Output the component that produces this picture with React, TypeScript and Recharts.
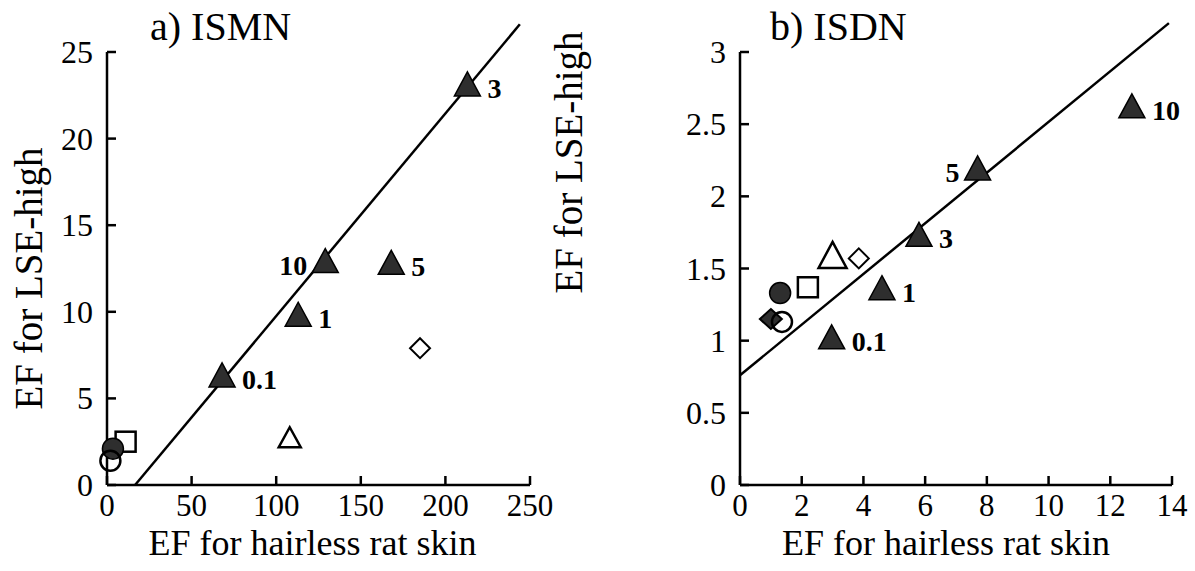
import React from 'react';
import { ScatterChart, Scatter, XAxis, YAxis, ReferenceLine, Label } from 'recharts';

// a) ISMN
const ismnXTicks = [0, 50, 100, 150, 200, 250];
const ismnYTicks = [0, 5, 10, 15, 20, 25];
const ismnDoses = ['0.1', '1', '3', '5', '10'];
const ismnDoseX = [68, 113, 213, 168, 129];
const ismnDoseY = [6.3, 9.8, 23.1, 12.8, 12.9];
const ismnOtherKinds = ['openTriangle', 'openDiamond', 'openSquare', 'filledCircle', 'openCircle'];
const ismnOtherX = [108, 185, 11, 3.5, 2];
const ismnOtherY = [2.7, 7.9, 2.5, 2.1, 1.4];
const ismnFitX = [16.6, 244];
const ismnFitY = [0, 26.6];

// b) ISDN
const isdnXTicks = [0, 2, 4, 6, 8, 10, 12, 14];
const isdnYTicks = [0, 0.5, 1, 1.5, 2, 2.5, 3];
const isdnDoses = ['0.1', '1', '3', '5', '10'];
const isdnDoseX = [2.97, 4.6, 5.8, 7.7, 12.7];
const isdnDoseY = [1.02, 1.36, 1.73, 2.19, 2.62];
const isdnOtherKinds = ['bigOpenTriangle', 'openDiamond', 'openSquare', 'filledCircle', 'filledDiamond', 'openCircle'];
const isdnOtherX = [3.0, 3.85, 2.2, 1.3, 1.0, 1.36];
const isdnOtherY = [1.58, 1.57, 1.37, 1.33, 1.15, 1.13];
const isdnFitX = [0, 13.9];
const isdnFitY = [0.76, 3.2];

const SERIF = '"Liberation Serif", "Times New Roman", serif';
const INK = '#000';
const DARK = '#2e2e2e';

const zip = (xs: number[], ys: number[]) => xs.map((x, i) => ({ x, y: ys[i] }));

function XTick(props: any) {
  const { x, y, payload } = props;
  return (
    <g>
      <line x1={x} x2={x} y1={y} y2={y - 9} stroke={INK} strokeWidth={2.5} />
      <text x={x} y={y + 31} textAnchor="middle" fontSize={31} fontFamily={SERIF} fill={INK}>
        {payload.value}
      </text>
    </g>
  );
}

function YTick(props: any) {
  const { x, y, payload } = props;
  return (
    <g>
      <line x1={x} x2={x + 9} y1={y} y2={y} stroke={INK} strokeWidth={2.5} />
      <text x={x - 14} y={y + 11} textAnchor="end" fontSize={32} fontFamily={SERIF} fill={INK}>
        {payload.value}
      </text>
    </g>
  );
}

function marker(kind: string, cx: number, cy: number) {
  switch (kind) {
    case 'openTriangle':
      return <path d={`M${cx},${cy - 11} L${cx + 11},${cy + 9} L${cx - 11},${cy + 9} Z`} fill="#fff" stroke={INK} strokeWidth={2.5} />;
    case 'bigOpenTriangle':
      return <path d={`M${cx},${cy - 15} L${cx + 14},${cy + 11} L${cx - 14},${cy + 11} Z`} fill="#fff" stroke={INK} strokeWidth={2.5} />;
    case 'openDiamond':
      return <path d={`M${cx},${cy - 10} L${cx + 10},${cy} L${cx},${cy + 10} L${cx - 10},${cy} Z`} fill="#fff" stroke={INK} strokeWidth={2} />;
    case 'filledDiamond':
      return <path d={`M${cx},${cy - 10} L${cx + 11},${cy} L${cx},${cy + 10} L${cx - 11},${cy} Z`} fill={DARK} stroke={INK} strokeWidth={2} />;
    case 'openSquare':
      return <rect x={cx - 10} y={cy - 10} width={20} height={20} fill="#fff" stroke={INK} strokeWidth={2.5} />;
    case 'filledCircle':
      return <circle cx={cx} cy={cy} r={10.5} fill={DARK} stroke={INK} strokeWidth={1.5} />;
    case 'openCircle':
      return <circle cx={cx} cy={cy} r={10} fill="none" stroke={INK} strokeWidth={2.5} />;
    default:
      return null;
  }
}

function makeDoseShape(leftLabels: string[]) {
  return (props: any) => {
    const { cx, cy, payload } = props;
    const left = leftLabels.includes(payload.label);
    return (
      <g>
        <path d={`M${cx},${cy - 13} L${cx + 13},${cy + 11} L${cx - 13},${cy + 11} Z`} fill={DARK} stroke={INK} strokeWidth={1.5} />
        <text
          x={left ? cx - 18 : cx + 20}
          y={cy + 13}
          textAnchor={left ? 'end' : 'start'}
          fontSize={28}
          fontWeight="bold"
          fontFamily={SERIF}
          fill={INK}
        >
          {payload.label}
        </text>
      </g>
    );
  };
}

const otherShape = (props: any) => marker(props.payload.kind, props.cx, props.cy);

interface PanelProps {
  xTicks: number[];
  yTicks: number[];
  doses: string[];
  doseX: number[];
  doseY: number[];
  otherKinds: string[];
  otherX: number[];
  otherY: number[];
  fitX: number[];
  fitY: number[];
  leftLabels: string[];
  width: number;
  margin: { top: number; right: number; bottom: number; left: number };
  xLabelDx: number;
  yLabelDx: number;
  yLabelDy: number;
}

function Panel(p: PanelProps) {
  const doseData = p.doses.map((label, i) => ({ x: p.doseX[i], y: p.doseY[i], label }));
  const otherData = p.otherKinds.map((kind, i) => ({ x: p.otherX[i], y: p.otherY[i], kind }));
  const fit = zip(p.fitX, p.fitY);
  const xMax = p.xTicks[p.xTicks.length - 1];
  const yMax = p.yTicks[p.yTicks.length - 1];
  return (
    <ScatterChart width={p.width} height={571} margin={p.margin}>
      <XAxis
        type="number"
        dataKey="x"
        domain={[0, xMax]}
        ticks={p.xTicks}
        interval={0}
        tickSize={0}
        tickMargin={0}
        tickLine={false}
        height={80}
        axisLine={{ stroke: INK, strokeWidth: 2.5 }}
        tick={<XTick />}
      >
        <Label
          content={(lp: any) => {
            const vb = lp.viewBox;
            return (
              <text x={vb.x + vb.width / 2 + p.xLabelDx} y={vb.y + 70} textAnchor="middle" fontSize={36} fontFamily={SERIF} fill={INK}>
                EF for hairless rat skin
              </text>
            );
          }}
        />
      </XAxis>
      <YAxis
        type="number"
        dataKey="y"
        domain={[0, yMax]}
        ticks={p.yTicks}
        interval={0}
        tickSize={0}
        tickMargin={0}
        tickLine={false}
        width={100}
        axisLine={{ stroke: INK, strokeWidth: 2.5 }}
        tick={<YTick />}
      >
        <Label
          content={(lp: any) => {
            const vb = lp.viewBox;
            const cx = vb.x + p.yLabelDx;
            const cy = vb.y + vb.height / 2 + p.yLabelDy;
            return (
              <text x={cx} y={cy} transform={`rotate(-90 ${cx} ${cy})`} textAnchor="middle" fontSize={39} fontFamily={SERIF} fill={INK}>
                EF for LSE-high
              </text>
            );
          }}
        />
      </YAxis>
      <ReferenceLine segment={fit} stroke={INK} strokeWidth={2.5} ifOverflow="visible" />
      <Scatter data={otherData} shape={otherShape} isAnimationActive={false} />
      <Scatter data={doseData} shape={makeDoseShape(p.leftLabels)} isAnimationActive={false} />
    </ScatterChart>
  );
}

export default function App() {
  return (
    <div style={{ position: 'absolute', left: 0, top: 0, width: 1195, height: 571, background: '#fff', overflow: 'hidden' }}>
      <div style={{ position: 'absolute', left: 0, top: 0 }}>
        <Panel
          xTicks={ismnXTicks}
          yTicks={ismnYTicks}
          doses={ismnDoses}
          doseX={ismnDoseX}
          doseY={ismnDoseY}
          otherKinds={ismnOtherKinds}
          otherX={ismnOtherX}
          otherY={ismnOtherY}
          fitX={ismnFitX}
          fitY={ismnFitY}
          leftLabels={['10']}
          width={560}
          margin={{ top: 52, right: 30, bottom: 6, left: 7 }}
          xLabelDx={-6}
          yLabelDx={35}
          yLabelDy={10}
        />
      </div>
      <div style={{ position: 'absolute', left: 540, top: 0 }}>
        <Panel
          xTicks={isdnXTicks}
          yTicks={isdnYTicks}
          doses={isdnDoses}
          doseX={isdnDoseX}
          doseY={isdnDoseY}
          otherKinds={isdnOtherKinds}
          otherX={isdnOtherX}
          otherY={isdnOtherY}
          fitX={isdnFitX}
          fitY={isdnFitY}
          leftLabels={['5']}
          width={655}
          margin={{ top: 52, right: 23, bottom: 6, left: 100 }}
          xLabelDx={-10}
          yLabelDx={-58}
          yLabelDy={-106}
        />
      </div>
      <svg width={1195} height={60} style={{ position: 'absolute', left: 0, top: 0, pointerEvents: 'none' }}>
        <text x={150} y={40} fontSize={40} fontFamily={SERIF} fill={INK}>a) ISMN</text>
        <text x={770} y={40} fontSize={40} fontFamily={SERIF} fill={INK}>b) ISDN</text>
      </svg>
    </div>
  );
}
